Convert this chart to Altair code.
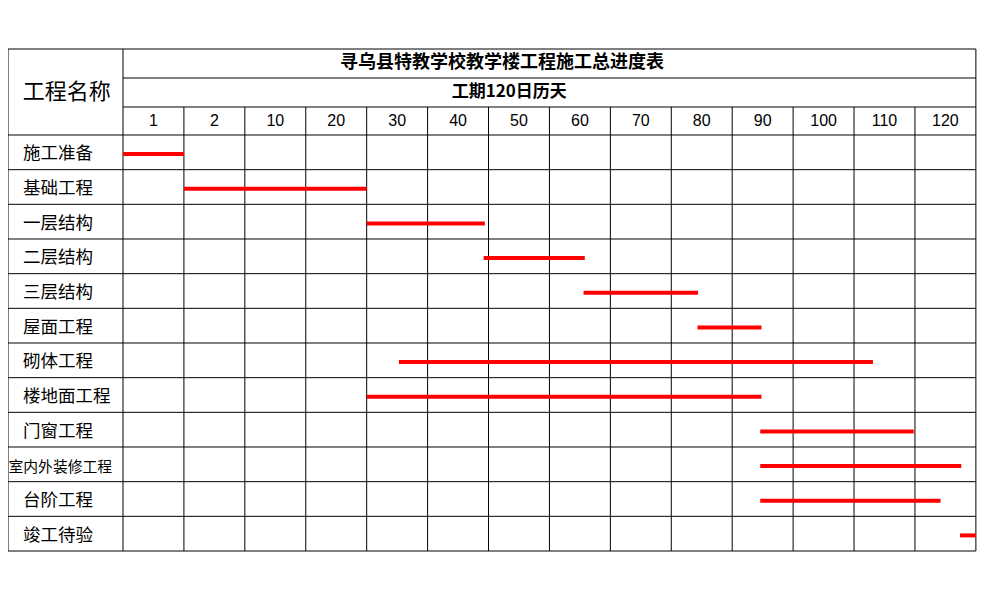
import altair as alt
import pandas as pd

title_text = "寻乌县特教学校教学楼工程施工总进度表"
subtitle_text = "工期120日历天"
name_header = "工程名称"
col_labels = ["1", "2", "10", "20", "30", "40", "50", "60", "70", "80", "90", "100", "110", "120"]
tasks = ["施工准备", "基础工程", "一层结构", "二层结构", "三层结构", "屋面工程",
         "砌体工程", "楼地面工程", "门窗工程", "室内外装修工程", "台阶工程", "竣工待验"]
# start / end of each bar, in column units of the schedule grid
start = [0.0, 1.0, 4.0, 5.92, 7.56, 9.43, 4.53, 4.0, 10.46, 10.46, 10.46, 13.74]
end = [1.0, 4.0, 5.94, 7.58, 9.44, 10.48, 12.31, 10.48, 12.98, 13.76, 13.42, 14.0]

NCOL = len(col_labels)
NROW = len(tasks)
LEFT_W = 115.0
COL_W = 60.92
ROW_H = 34.67
HEAD_H = 86.0
W = 968
H = 502
x_min = -LEFT_W / COL_W
x_max = (W - LEFT_W) / COL_W
y_min = -HEAD_H / ROW_H
h1 = y_min + 29 / ROW_H
h2 = y_min + 58 / ROW_H

FONT = "Noto Sans CJK SC"
xs = alt.Scale(domain=[x_min, x_max], nice=False, zero=False)
ys = alt.Scale(domain=[y_min, NROW], nice=False, zero=False, reverse=True)

# grid lines
hl = [{"y": float(r), "x": x_min, "x2": float(NCOL)} for r in range(NROW + 1)]
hl.append({"y": y_min, "x": x_min, "x2": float(NCOL)})
hl.append({"y": h1, "x": 0.0, "x2": float(NCOL)})
hl.append({"y": h2, "x": 0.0, "x2": float(NCOL)})
hdf = pd.DataFrame(hl)

vl = [{"x": x_min, "y": y_min, "y2": float(NROW)},
      {"x": 0.0, "y": y_min, "y2": float(NROW)},
      {"x": float(NCOL), "y": y_min, "y2": float(NROW)}]
vl += [{"x": float(c), "y": h2, "y2": float(NROW)} for c in range(1, NCOL)]
vdf = pd.DataFrame(vl)

hlines = alt.Chart(hdf).mark_rule(color="black", strokeWidth=1).encode(
    x=alt.X("x:Q", scale=xs, axis=None), x2="x2:Q",
    y=alt.Y("y:Q", scale=ys, axis=None))
vlines = alt.Chart(vdf).mark_rule(color="black", strokeWidth=1).encode(
    x=alt.X("x:Q", scale=xs, axis=None),
    y=alt.Y("y:Q", scale=ys, axis=None), y2="y2:Q")

tdf = pd.DataFrame({"task": tasks, "start": start, "end": end, "row": list(range(NROW))})

bars = alt.Chart(tdf).transform_calculate(ypos="datum.row + 0.55").mark_rule(
    color="#ff0000", strokeWidth=4, strokeCap="butt").encode(
    x=alt.X("start:Q", scale=xs, axis=None), x2="end:Q",
    y=alt.Y("ypos:Q", scale=ys, axis=None))

labels = alt.Chart(tdf).transform_filter("length(datum.task) <= 6").transform_calculate(
    ypos="datum.row + 0.56").mark_text(
    font=FONT, fontSize=17.5, align="left", baseline="middle", color="black").encode(
    x=alt.value(15), y=alt.Y("ypos:Q", scale=ys, axis=None), text="task:N")
labels_small = alt.Chart(tdf).transform_filter("length(datum.task) > 6").transform_calculate(
    ypos="datum.row + 0.6").mark_text(
    font=FONT, fontSize=14.8, align="left", baseline="middle", color="black").encode(
    x=alt.value(0.5), y=alt.Y("ypos:Q", scale=ys, axis=None), text="task:N")

cdf = pd.DataFrame({"label": col_labels, "col": list(range(NCOL))})
collabels = alt.Chart(cdf).transform_calculate(
    xc="datum.col + 0.5", yc=str((h2 + 0.0) / 2)).mark_text(
    font="Liberation Sans", fontSize=16, align="center", baseline="middle", color="black").encode(
    x=alt.X("xc:Q", scale=xs, axis=None), y=alt.Y("yc:Q", scale=ys, axis=None), text="label:N")

head_df = pd.DataFrame({
    "text": [title_text, subtitle_text],
    "x": [6.22, 6.34],
    "y": [(y_min + h1) / 2, (h1 + h2) / 2],
    "size": [18, 17],
})
heads = alt.Chart(head_df).mark_text(
    font=FONT, fontWeight="bold", align="center", baseline="middle", color="black").encode(
    x=alt.X("x:Q", scale=xs, axis=None), y=alt.Y("y:Q", scale=ys, axis=None),
    text="text:N", size=alt.Size("size:Q", scale=None, legend=None))

name_df = pd.DataFrame({"text": [name_header], "x": [x_min / 2 + 0.02], "y": [y_min / 2]})
namehead = alt.Chart(name_df).mark_text(
    font=FONT, fontSize=22, align="center", baseline="middle", color="black").encode(
    x=alt.X("x:Q", scale=xs, axis=None), y=alt.Y("y:Q", scale=ys, axis=None), text="text:N")

chart = alt.layer(hlines, vlines, bars, labels, labels_small, collabels, heads, namehead).properties(
    width=W, height=H, autosize="none",
    padding={"left": 0, "top": 41, "right": 1, "bottom": 2},
    background="white",
).configure_view(stroke=None)

chart.save("out.html", embed_options={"renderer": "svg", "actions": False})
